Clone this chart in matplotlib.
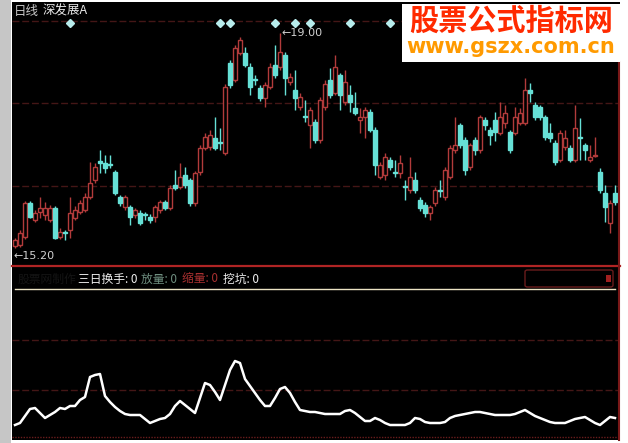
import numpy as np
import matplotlib
matplotlib.use("Agg")
import matplotlib.pyplot as plt
from matplotlib.patches import Rectangle, FancyBboxPatch

plt.rcParams['font.family'] = ['Noto Sans CJK SC', 'DejaVu Sans']

# daily candles (price)
opens = [15.24, 15.25, 15.39, 15.99, 15.69, 15.84, 15.78, 15.69, 15.91, 15.39,
         15.48, 15.52, 15.73, 15.84, 15.87, 16.10, 16.40, 16.74, 16.70, 16.68,
         16.54, 16.10, 15.92, 15.92, 15.78, 15.82, 15.79, 15.75, 15.75, 15.87,
         16.01, 15.91, 16.31, 16.28, 16.49, 16.40, 15.99, 16.54, 16.97, 16.99,
         17.14, 17.07, 16.88, 18.47, 18.17, 18.65, 18.65, 18.40, 18.18, 18.03,
         17.85, 18.05, 18.43, 18.40, 18.61, 18.13, 17.99, 17.69, 17.53, 17.37,
         17.43, 17.11, 17.69, 18.17, 17.94, 18.26, 17.78, 17.90, 17.67, 17.46,
         17.52, 17.61, 17.29, 16.46, 16.49, 16.76, 16.54, 16.53, 16.29, 16.22,
         16.40, 16.05, 15.96, 15.82, 15.99, 16.23, 16.10, 16.46, 16.93, 17.37,
         17.11, 16.63, 17.11, 16.93, 17.46, 17.29, 17.46, 17.23, 17.41, 17.25,
         17.23, 17.41, 17.41, 17.99, 17.73, 17.69, 17.52, 17.23, 17.06, 16.76,
         16.99, 16.97, 16.76, 17.17, 17.02, 16.76, 16.83, 16.54, 16.17, 15.64,
         16.17]
closes = [15.34, 15.47, 15.99, 15.75, 15.82, 15.91, 15.91, 15.91, 15.38, 15.48,
          15.47, 15.82, 15.87, 15.99, 16.10, 16.35, 16.63, 16.70, 16.62, 16.66,
          16.17, 15.99, 16.10, 15.75, 15.87, 15.64, 15.78, 15.69, 15.92, 16.01,
          15.91, 16.26, 16.26, 16.46, 16.31, 15.99, 16.53, 16.97, 17.16, 17.20,
          16.97, 17.06, 18.05, 18.08, 18.73, 18.88, 18.43, 18.05, 18.17, 17.85,
          18.08, 18.40, 18.26, 18.66, 18.20, 18.22, 17.85, 17.87, 17.52, 17.64,
          17.11, 17.82, 18.10, 17.90, 18.40, 17.90, 18.13, 17.78, 17.59, 17.52,
          17.64, 17.29, 16.67, 16.67, 16.81, 16.63, 16.52, 16.70, 16.27, 16.46,
          16.22, 15.91, 15.82, 15.92, 16.22, 16.21, 16.58, 16.97, 17.02, 17.02,
          16.58, 17.02, 16.93, 17.52, 17.37, 17.20, 17.25, 17.52, 17.59, 16.93,
          17.52, 17.59, 17.99, 17.94, 17.52, 17.52, 17.16, 17.14, 16.72, 17.23,
          17.14, 16.76, 17.32, 17.15, 16.93, 16.81, 16.85, 16.22, 15.92, 15.99,
          16.01]
highs = [15.38, 15.52, 16.03, 16.03, 15.87, 16.10, 16.01, 15.96, 15.94, 15.56,
         15.52, 16.10, 15.94, 16.05, 16.17, 16.72, 16.70, 16.93, 16.84, 16.84,
         16.58, 16.14, 16.14, 15.96, 15.91, 15.87, 15.84, 15.80, 15.96, 16.05,
         16.05, 16.31, 16.58, 16.70, 16.63, 16.44, 16.56, 17.02, 17.23, 17.29,
         17.52, 17.32, 18.10, 18.52, 18.79, 18.93, 18.75, 18.47, 18.26, 18.08,
         18.13, 18.47, 18.79, 19.00, 18.66, 18.30, 18.35, 17.94, 17.82, 17.69,
         17.48, 17.87, 18.17, 18.38, 18.61, 18.30, 18.35, 18.08, 17.96, 17.67,
         17.69, 17.66, 17.34, 16.72, 16.88, 16.81, 16.76, 16.84, 16.40, 16.81,
         16.54, 16.10, 16.01, 15.96, 16.28, 16.40, 16.63, 17.02, 17.52, 17.41,
         17.16, 17.06, 17.16, 17.55, 17.52, 17.34, 17.61, 17.78, 17.73, 17.29,
         17.69, 17.67, 18.20, 18.12, 17.78, 17.73, 17.55, 17.41, 17.11, 17.29,
         17.29, 17.02, 17.73, 17.50, 17.06, 17.02, 17.16, 16.61, 16.31, 16.05,
         16.31]
lows = [15.20, 15.22, 15.36, 15.73, 15.66, 15.73, 15.69, 15.66, 15.36, 15.36,
        15.34, 15.38, 15.69, 15.80, 15.84, 16.07, 16.35, 16.53, 16.53, 16.62,
        16.14, 15.94, 15.87, 15.61, 15.73, 15.61, 15.69, 15.64, 15.66, 15.82,
        15.87, 15.87, 16.22, 16.24, 16.26, 15.94, 15.94, 16.49, 16.93, 16.93,
        16.93, 16.93, 16.84, 18.03, 18.13, 18.61, 18.40, 17.90, 18.08, 17.80,
        17.69, 18.01, 18.20, 18.35, 17.90, 18.08, 17.64, 17.64, 17.43, 16.97,
        17.06, 17.06, 17.64, 17.85, 17.90, 17.64, 17.73, 17.61, 17.55, 17.23,
        17.14, 17.25, 16.49, 16.42, 16.40, 16.58, 16.46, 16.44, 16.05, 16.17,
        16.17, 15.85, 15.75, 15.69, 15.94, 16.10, 16.05, 16.42, 16.88, 16.97,
        16.49, 16.58, 16.84, 16.88, 17.29, 17.02, 17.09, 17.20, 17.32, 16.88,
        17.20, 17.37, 17.37, 17.78, 17.46, 17.46, 17.11, 17.07, 16.67, 16.72,
        16.93, 16.72, 16.72, 16.76, 16.76, 16.72, 16.81, 16.17, 15.66, 15.47,
        15.96]

# signal diamonds (candle index)
signal_days = [11, 41, 43, 52, 56, 59, 67, 75]

# lower indicator line
turnover = [1.5, 1.7, 2.4, 3.1, 3.2, 2.7, 2.2, 2.5, 2.8, 3.2,
            3.1, 3.4, 3.4, 4.0, 4.3, 6.3, 6.5, 6.6, 4.4, 3.8,
            3.3, 2.9, 2.6, 2.5, 2.5, 2.5, 2.1, 1.7, 1.9, 2.1,
            2.2, 2.6, 3.4, 3.9, 3.5, 3.1, 2.7, 4.2, 5.7, 5.5,
            4.8, 4.0, 5.5, 7.0, 7.9, 7.7, 6.1, 5.4, 4.7, 4.0,
            3.4, 3.4, 4.2, 5.1, 5.3, 4.7, 3.8, 3.0, 2.9, 2.8,
            2.8, 2.7, 2.6, 2.6, 2.6, 2.6, 2.9, 3.0, 2.7, 2.3,
            1.9, 1.9, 2.2, 2.0, 1.7, 1.5, 1.5, 1.5, 1.5, 1.7,
            2.2, 2.1, 1.8, 1.7, 1.7, 1.7, 1.8, 2.2, 2.4, 2.5,
            2.6, 2.7, 2.8, 2.8, 2.7, 2.6, 2.5, 2.5, 2.5, 2.5,
            2.6, 2.8, 3.0, 2.7, 2.4, 2.2, 2.0, 1.8, 1.7, 1.7,
            1.7, 1.9, 2.1, 2.2, 2.3, 2.0, 1.7, 1.5, 1.9, 2.3,
            2.2]

RED = '#b23b3b'
CYAN = '#66e0d6'
GRID = '#441616'
W, H = 628, 443

fig = plt.figure(figsize=(W / 100, H / 100), dpi=100, facecolor='white')
fig.patches.append(Rectangle((12 / W, 3 / H), 608 / W, 438 / H, transform=fig.transFigure,
                             facecolor='black', edgecolor='none', zorder=-2))
fig.patches.append(Rectangle((0, 0), 11 / W, 1, transform=fig.transFigure,
                             facecolor='#c6c6c6', edgecolor='none', zorder=-2))

# ---- main candle panel
ax = fig.add_axes([12 / W, (H - 266) / H, 608 / W, 263 / H])
ax.set_facecolor('none')
ax.set_xlim(-0.6, 121)
ax.set_ylim(14.882, 19.529)
ax.axis('off')

for f in [0.9316, 0.6198, 0.3042]:
    ax.plot([0, 1], [f, f], transform=ax.transAxes, color=GRID, lw=1,
            ls=(0, (5, 2)), zorder=1)

x = np.arange(len(opens))
o = np.array(opens); c = np.array(closes)
up = c >= o
colors = np.where(up, RED, CYAN)
ax.vlines(x, lows, highs, colors=colors, lw=1, zorder=2)
body_lo = np.minimum(o, c)
body_h = np.maximum(np.abs(c - o), 0.02)
ax.bar(x[up], body_h[up], bottom=body_lo[up], width=0.62,
       facecolor='black', edgecolor=RED, lw=1, zorder=3)
ax.bar(x[~up], body_h[~up], bottom=body_lo[~up], width=0.62,
       facecolor=CYAN, edgecolor=CYAN, lw=1, zorder=3)

ax.plot(signal_days, [19.18] * len(signal_days), ls='none', marker='D',
        ms=4.5, color='#b8ecec', zorder=4)

hi_i = int(np.argmax(highs)); lo_i = int(np.argmin(lows))
ax.text(hi_i + 0.2, highs[hi_i], '\u2190' + f'{highs[hi_i]:.2f}', color='#d0d0d0',
        fontsize=8, va='center', ha='left', family='DejaVu Sans')
ax.text(lo_i - 0.3, lows[lo_i] - 0.05, '\u2190' + f'{lows[lo_i]:.2f}', color='#d0d0d0',
        fontsize=8, va='top', ha='left', family='DejaVu Sans')

fig.text(14 / W, 1 - 11 / H, '日线', color='#c8c8c8', fontsize=9, va='center')
fig.text(43 / W, 1 - 11 / H, '深发展A', color='#e8e8e8', fontsize=9, va='center')

# separators / borders
fig.add_artist(plt.Line2D([12 / W, 620 / W], [(H - 266) / H] * 2, color='#b02424', lw=1.6))
fig.add_artist(plt.Line2D([619 / W] * 2, [3 / H, (H - 62) / H], color='#7a1818', lw=1.5))

# ---- lower indicator panel
ax2 = fig.add_axes([12 / W, 3 / H, 608 / W, 174 / H])
ax2.set_facecolor('none')
ax2.set_xlim(-0.6, 121)
ax2.set_ylim(0, 17.4)
ax2.axis('off')
for lvl in [5, 10]:
    ax2.axhline(lvl, color=GRID, lw=1, ls=(0, (5, 2)))
ax2.axhline(0.3, color='#6a1c1c', lw=1, ls=(0, (1, 1)))
ax2.plot([0, 120], [15.1, 15.1], color='#ece4c4', lw=1)
ax2.plot(x, turnover, color='white', lw=1.8)

ax2.text(0.5, 16.1, '股票网制作', color='#141414', fontsize=8.5, va='center')
ax2.text(12.5, 16.1, '三日换手: 0', color='#f0f0f0', fontsize=8.5, va='center')
ax2.text(25.2, 16.1, '放量: 0', color='#6f8f80', fontsize=8.5, va='center')
ax2.text(33.4, 16.1, '缩量: 0', color='#a83030', fontsize=8.5, va='center')
ax2.text(41.6, 16.1, '挖坑: 0', color='#f0f0f0', fontsize=8.5, va='center')

box = FancyBboxPatch((525 / W, (H - 287) / H), 88 / W, 17 / H, boxstyle='round,pad=0,rounding_size=0.004',
                     transform=fig.transFigure, facecolor='none', edgecolor='#6a1c1c', lw=1)
fig.patches.append(box)
fig.patches.append(Rectangle((606 / W, (H - 282) / H), 5 / W, 7 / H, transform=fig.transFigure,
                             facecolor='#a02020', edgecolor='none'))

# ---- watermark
fig.patches.append(Rectangle((402 / W, (H - 62) / H), 218 / W, 58 / H, transform=fig.transFigure,
                             facecolor='white', edgecolor='none', zorder=5))
fig.text(511 / W, 1 - 21 / H, '股票公式指标网', color='#ff2a00', fontsize=21,
         fontweight='bold', ha='center', va='center', zorder=6)
fig.text(511 / W, 1 - 47 / H, 'www.gszx.com.cn', color='#ff9a00', fontsize=15,
         fontweight='bold', ha='center', va='center', zorder=6, family='DejaVu Sans')

fig.savefig('out.png', dpi=100, facecolor=fig.get_facecolor())
